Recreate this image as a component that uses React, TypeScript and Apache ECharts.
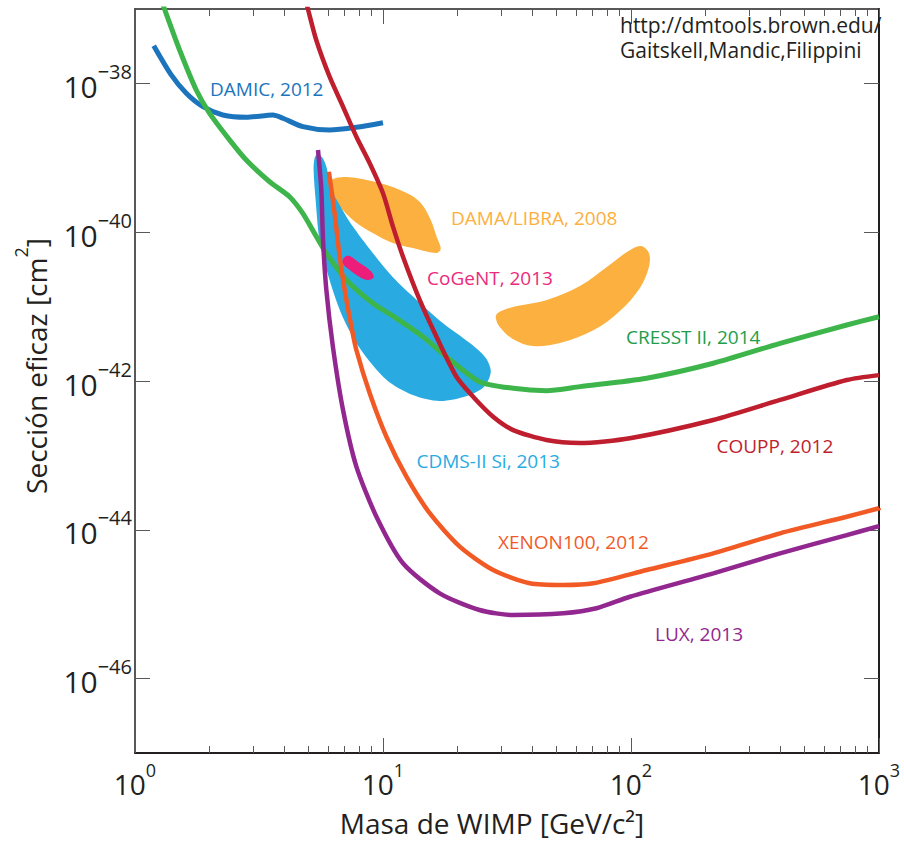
import React, { useEffect, useRef } from 'react';
import * as echarts from 'echarts';

type Pt = [number, number];

// ---- axis ticks (values in GeV/c^2 and cm^2) ----
const xTickValues = [1, 10, 100, 1000];
const xMinorTickValues = [2, 3, 4, 5, 6, 7, 8, 9, 20, 30, 40, 50, 60, 70, 80, 90, 200, 300, 400, 500, 600, 700, 800, 900];
const yTickValues = [1e-46, 1e-44, 1e-42, 1e-40, 1e-38];
const xRange: Pt = [1, 1000];
const yRange: Pt = [1e-47, 1e-37];

// ---- exclusion curves [WIMP mass GeV/c^2, cross section cm^2] ----
const damic: Pt[] = [[1.19, 3.21e-38], [1.40, 1.30e-38], [1.61, 7.36e-39], [1.88, 4.86e-39], [2.26, 3.76e-39], [2.81, 3.50e-39], [3.60, 3.76e-39], [3.95, 3.40e-39], [4.75, 2.62e-39], [6.09, 2.36e-39], [7.81, 2.57e-39], [10.0, 2.96e-39]];
const cresst: Pt[] = [[1.256, 1.55e-37], [1.315, 1e-37], [1.513, 2.81e-38], [1.766, 8.15e-39], [2.0, 3.96e-39], [2.41, 1.73e-39], [2.81, 9.33e-40], [3.49, 4.77e-40], [4.20, 3.0e-40], [4.75, 1.79e-40], [5.39, 8.7e-41], [5.91, 5.2e-41], [7.12, 2.28e-41], [9.11, 1.11e-41], [11.33, 6.96e-42], [14.5, 3.94e-42], [18.03, 2.12e-42], [24.5, 9.8e-43], [33.5, 7.98e-43], [45.6, 7.41e-43], [62.2, 8.4e-43], [115.6, 1.09e-42], [214.7, 1.73e-42], [399, 3.21e-42], [741, 5.66e-42], [1000, 7.31e-42]];
const coupp: Pt[] = [[4.81, 1.55e-37], [4.98, 1e-37], [5.38, 3.83e-38], [6.09, 1.23e-38], [6.90, 4.86e-39], [7.81, 1.92e-39], [8.84, 8.44e-40], [10.0, 3.33e-40], [10.97, 1.19e-40], [12.04, 4.69e-41], [14.06, 1.23e-41], [16.43, 3.94e-42], [19.78, 1.14e-42], [23.08, 6.15e-43], [27.8, 3.31e-43], [33.5, 2.19e-43], [45.6, 1.61e-43], [62.2, 1.47e-43], [99, 1.70e-43], [214.7, 2.99e-43], [399, 5.56e-43], [741, 1.03e-42], [1000, 1.2e-42]];
const xenon: Pt[] = [[6.05, 6.5e-40], [6.38, 1.8e-40], [6.69, 4.69e-41], [7.01, 1.67e-41], [7.46, 5.37e-42], [7.81, 2.61e-42], [8.84, 6.84e-43], [10.32, 1.78e-43], [12.43, 5.17e-44], [15.43, 1.67e-44], [20.4, 5.93e-45], [27.8, 2.88e-45], [39.1, 1.91e-45], [53.3, 1.81e-45], [70.4, 1.91e-45], [115.6, 2.88e-45], [214.7, 4.83e-45], [399, 8.97e-45], [741, 1.50e-44], [1000, 1.95e-44]];
const lux: Pt[] = [[5.47, 1.27e-39], [5.64, 3.69e-40], [5.73, 7.85e-41], [5.91, 1.67e-41], [6.28, 2.89e-42], [6.90, 4.07e-43], [7.81, 7.05e-44], [9.41, 1.5e-44], [12.04, 3.55e-45], [16.93, 1.40e-45], [24.5, 8.36e-46], [33.5, 7.16e-46], [53.3, 7.55e-46], [72.6, 8.81e-46], [99, 1.26e-45], [214.7, 2.6e-45], [399, 4.83e-45], [741, 8.5e-45], [1000, 1.12e-44]];

// ---- signal regions (closed contours) ----
const cdmsSi: Pt[] = [[5.45, 1.125e-39], [5.71, 9.93e-40], [5.93, 7.29e-40], [6.15, 3.93e-40], [6.69, 2.32e-40], [7.34, 1.37e-40], [8.84, 5.94e-41], [10.94, 2.50e-41], [13.68, 1.23e-41], [17.42, 6.03e-42], [22.39, 3.24e-42], [25.97, 2.04e-42], [27.2, 1.32e-42], [25.5, 8.3e-43], [21.77, 6.28e-43], [16.93, 5.38e-43], [13.18, 6.48e-43], [10.35, 1.03e-42], [8.05, 2.78e-42], [6.88, 7.24e-42], [6.09, 2.28e-41], [5.55, 7.85e-41], [5.35, 2.71e-40], [5.25, 6.85e-40], [5.30, 9.93e-40]];
const damaLow: Pt[] = [[6.15, 5.03e-40], [7.14, 5.52e-40], [9.70, 4.58e-40], [12.46, 3.36e-40], [14.20, 2.47e-40], [15.58, 1.46e-40], [16.47, 8.61e-41], [17.09, 5.94e-41], [16.32, 5.25e-41], [13.18, 6.13e-41], [10.94, 7.16e-41], [9.09, 9.75e-41], [7.83, 1.33e-40], [6.88, 1.99e-40], [6.27, 2.97e-40], [6.04, 4.05e-40]];
const damaHigh: Pt[] = [[29.03, 8.2e-42], [33.38, 9.88e-42], [45.78, 1.23e-41], [62.2, 1.89e-41], [79.9, 3.40e-41], [96.3, 5.42e-41], [109.6, 6.53e-41], [118.1, 5.25e-41], [118.1, 3.40e-41], [108.6, 1.78e-41], [90.2, 8.73e-42], [70.8, 4.84e-42], [51.66, 3.24e-42], [40.19, 2.95e-42], [33.38, 3.67e-42], [29.57, 5.32e-42], [28.5, 7.03e-42]];
const cogent: Pt[] = [[7.01, 4.65e-41], [7.34, 4.79e-41], [8.05, 3.85e-41], [8.84, 3.10e-41], [9.17, 2.50e-41], [8.68, 2.28e-41], [8.05, 2.50e-41], [7.34, 3.10e-41], [6.88, 3.85e-41]];

// ---- annotation texts ----
const labelTexts = ['DAMIC, 2012', 'DAMA/LIBRA, 2008', 'CoGeNT, 2013', 'CRESST II, 2014', 'COUPP, 2012', 'CDMS-II Si, 2013', 'XENON100, 2012', 'LUX, 2013'];
const labelColors = ['#1c75bc', '#fbb040', '#ec2a7b', '#1e9d4a', '#be1e2d', '#29abe2', '#f15a29', '#92278f'];
const labelPos: Pt[] = [[210, 89], [451, 217.5], [427, 277.5], [626, 337], [716.5, 446], [416.5, 461], [498, 542], [655, 633.5]];
const creditLines = ['http://dmtools.brown.edu/', 'Gaitskell,Mandic,Filippini'];
const xTitle = 'Masa de WIMP [GeV/c\u00b2]';

const FONT = 'Open Sans';
const AXIS_COLOR = '#231f20';
const TICK_COLOR = '#58595b';

const lg = (v: number) => Math.log10(v);

function lineSeries(name: string, data: Pt[], color: string, width: number) {
  return {
    type: 'line',
    name,
    data,
    xAxisIndex: 0,
    yAxisIndex: 0,
    showSymbol: false,
    symbol: 'none',
    smooth: 0.25,
    clip: true,
    silent: true,
    lineStyle: { color, width },
    z: 3,
  };
}

function regionSeries(name: string, data: Pt[], color: string, smooth: number, z: number) {
  return {
    type: 'custom',
    name,
    data,
    xAxisIndex: 0,
    yAxisIndex: 0,
    clip: true,
    silent: true,
    z,
    renderItem: (params: any, api: any) => {
      if (params.dataIndex !== 0) return null;
      const points = data.map((p) => api.coord(p));
      return {
        type: 'polygon',
        shape: { points, smooth },
        style: { fill: color, stroke: 'none' },
      };
    },
  };
}

const xLabelRich = {
  b: { fontSize: 28, fontFamily: FONT, color: AXIS_COLOR, verticalAlign: 'bottom' },
  s: { fontSize: 18, fontFamily: FONT, color: AXIS_COLOR, verticalAlign: 'top', padding: [0, 0, 19, 0] },
};
const yLabelRich = {
  b: { fontSize: 30, fontFamily: FONT, color: AXIS_COLOR, verticalAlign: 'bottom', padding: [0, 0, 4, 0] },
  s: { fontSize: 20, fontFamily: FONT, color: AXIS_COLOR, verticalAlign: 'top', padding: [0, 0, 24, 0] },
};
const yTitleRich = {
  a: { fontSize: 28, fontFamily: FONT, color: AXIS_COLOR, fill: AXIS_COLOR, verticalAlign: 'bottom' },
  s: { fontSize: 18, fontFamily: FONT, color: AXIS_COLOR, fill: AXIS_COLOR, verticalAlign: 'top', padding: [0, 0, 20, 0] },
};

export default function App() {
  const ref = useRef<HTMLDivElement>(null);
  useEffect(() => {
    const chart = echarts.init(ref.current!, null, { renderer: 'svg' });
    const tickStyle = { color: TICK_COLOR, width: 1 };
    const noSplit = { splitLine: { show: false }, minorTick: { show: false }, minorSplitLine: { show: false } };
    // data axes (logarithmic), hidden: they carry the series
    const dataX = { type: 'log', logBase: 10, min: xRange[0], max: xRange[1], show: false, ...noSplit };
    const dataY = { type: 'log', logBase: 10, min: yRange[0], max: yRange[1], show: false, ...noSplit };
    // decade axes (same extent, in powers of ten) that draw frame, ticks and labels
    const decX = { type: 'value', min: lg(xRange[0]), max: lg(xRange[1]), ...noSplit };
    const decY = { type: 'value', min: lg(yRange[0]), max: lg(yRange[1]), ...noSplit };
    const xMajor = xTickValues.map(lg);
    const xMinor = xMinorTickValues.map(lg);
    const yMajor = yTickValues.map(lg);

    const option: any = {
      animation: false,
      backgroundColor: '#ffffff',
      textStyle: { fontFamily: FONT },
      grid: { left: 135, top: 9, width: 744, height: 744, containLabel: false },
      xAxis: [
        dataX,
        {
          ...decX,
          position: 'bottom',
          axisLine: { show: true, onZero: false, lineStyle: { color: AXIS_COLOR, width: 2 } },
          axisTick: { show: true, inside: true, length: 15, customValues: xMajor, lineStyle: tickStyle },
          axisLabel: {
            show: true,
            customValues: xMajor,
            margin: 8,
            formatter: (v: number) => `{b|10}{s|${Math.round(v)}}`,
            rich: xLabelRich,
          },
        },
        {
          ...decX,
          position: 'bottom',
          axisLine: { show: false, onZero: false },
          axisTick: { show: true, inside: true, length: 7, customValues: xMinor, lineStyle: tickStyle },
          axisLabel: { show: false },
        },
        {
          ...decX,
          position: 'top',
          axisLine: { show: true, onZero: false, lineStyle: { color: AXIS_COLOR, width: 1.5 } },
          axisTick: { show: true, inside: true, length: 15, customValues: xMajor, lineStyle: tickStyle },
          axisLabel: { show: false },
        },
        {
          ...decX,
          position: 'top',
          axisLine: { show: false, onZero: false },
          axisTick: { show: true, inside: true, length: 7, customValues: xMinor, lineStyle: tickStyle },
          axisLabel: { show: false },
        },
      ],
      yAxis: [
        dataY,
        {
          ...decY,
          position: 'left',
          axisLine: { show: true, onZero: false, lineStyle: { color: AXIS_COLOR, width: 1.5 } },
          axisTick: { show: true, inside: true, length: 15, customValues: yMajor, lineStyle: tickStyle },
          axisLabel: {
            show: true,
            customValues: yMajor,
            margin: 3,
            formatter: (v: number) => `{b|10}{s|\u2212${-Math.round(v)}}`,
            rich: yLabelRich,
          },
        },
        {
          ...decY,
          position: 'right',
          axisLine: { show: true, onZero: false, lineStyle: { color: AXIS_COLOR, width: 2 } },
          axisTick: { show: true, inside: true, length: 15, customValues: yMajor, lineStyle: tickStyle },
          axisLabel: { show: false },
        },
      ],
      series: [
        regionSeries('DAMA/LIBRA, 2008 (low)', damaLow, '#fbb040', 0.35, 2),
        regionSeries('DAMA/LIBRA, 2008 (high)', damaHigh, '#fbb040', 0.35, 2),
        regionSeries('CDMS-II Si, 2013', cdmsSi, '#29abe2', 0.3, 2),
        lineSeries('DAMIC, 2012', damic, '#1c75bc', 5),
        lineSeries('CRESST II, 2014', cresst, '#3db54a', 5),
        lineSeries('COUPP, 2012', coupp, '#be1e2d', 4.5),
        lineSeries('XENON100, 2012', xenon, '#f15a24', 4.5),
        lineSeries('LUX, 2013', lux, '#92278f', 4.5),
        regionSeries('CoGeNT, 2013', cogent, '#ec1e79', 0.4, 4),
      ],
      graphic: [
        ...labelTexts.map((t, i) => ({
          type: 'text',
          x: labelPos[i][0],
          y: labelPos[i][1],
          z: 10,
          silent: true,
          style: { text: t, fill: labelColors[i], fontSize: 19, fontFamily: FONT, align: 'left', verticalAlign: 'middle' },
        })),
        {
          type: 'text',
          x: 620,
          y: 12,
          z: 10,
          silent: true,
          style: {
            text: creditLines.join('\n'),
            fill: AXIS_COLOR,
            fontSize: 21,
            lineHeight: 25.5,
            fontFamily: FONT,
            align: 'left',
            verticalAlign: 'top',
          },
        },
        {
          type: 'text',
          x: 492,
          y: 823,
          z: 10,
          silent: true,
          style: {
            text: xTitle,
            fill: AXIS_COLOR,
            fontSize: 28,
            fontFamily: FONT,
            align: 'center',
            verticalAlign: 'middle',
          },
        },
        {
          type: 'text',
          x: 31,
          y: 366,
          rotation: Math.PI / 2,
          z: 10,
          silent: true,
          style: {
            text: '{a|Sección eficaz [cm}{s|2}{a|]}',
            align: 'center',
            verticalAlign: 'middle',
            rich: yTitleRich,
          },
        },
      ],
    };
    chart.setOption(option);
    return () => chart.dispose();
  }, []);
  return <div ref={ref} style={{ position: 'fixed', left: 0, top: 0, width: 904, height: 841, background: '#fff' }} />;
}
